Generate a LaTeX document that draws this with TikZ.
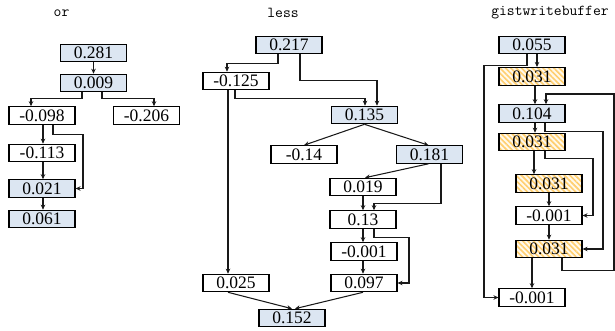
\documentclass[tikz,border=0pt]{standalone}
\usepackage{fontspec}
\setmainfont{Liberation Serif}
\usetikzlibrary{arrows.meta,patterns.meta,calc}
\definecolor{boxblue}{HTML}{DCE6F2}
\definecolor{hatchor}{HTML}{FFCF70}
\definecolor{hatchbg}{HTML}{FFF9EC}
\tikzset{
  val/.style={draw=black, line width=1.1pt, minimum width=66pt, minimum height=17.5pt, inner sep=0pt,
    font=\fontsize{17.5}{18}\selectfont, text depth=0pt},
  blue/.style={val, fill=boxblue},
  plain/.style={val, fill=white},
  hatch/.style={val, preaction={fill=hatchbg}, pattern={Lines[angle=-45,distance=3.8pt,line width=1.6pt]}, pattern color=hatchor},
  arr/.style={draw=black!90, line width=1.05pt, -{Stealth[length=5pt,width=4.5pt]}},
  ttl/.style={font=\ttfamily\fontsize{15.2}{16}\selectfont, text=black, inner sep=0pt}
}
\begin{document}
\begin{tikzpicture}[x=1pt,y=-1pt]
\useasboundingbox (0,0) rectangle (615,331);
% titles
\node[ttl] (t1) at (61.5,13) {or};
\node[ttl] (t2) at (283,13) {less};
\node[ttl] (t3) at (550,13) {gistwritebuffer};
% or
\node[blue]  (o1) at (93.5,53) {0.281};
\node[blue]  (o2) at (93.5,83) {0.009};
\node[plain] (o3) at (42,115.5) {-0.098};
\node[plain] (o4) at (146.5,115.5) {-0.206};
\node[plain] (o5) at (42,153) {-0.113};
\node[blue]  (o6) at (42,188.5) {0.021};
\node[blue]  (o7) at (42,219) {0.061};
\draw[arr] (o1.south) -- (o2.north);
\draw[arr] ([xshift=-11.5pt]o2.south) -- ++(0,6) -| ([xshift=-11pt]o3.north);
\draw[arr] ([xshift=8.5pt]o2.south) -- ++(0,6) -| ([xshift=7.5pt]o4.north);
\draw[arr] ([xshift=1pt]o3.south) -- ([xshift=1pt]o5.north);
\draw[arr] ([xshift=11pt]o3.south) -- ++(0,10) -- ++(30,0) |- (o6.east);
\draw[arr] ([xshift=1pt]o5.south) -- ([xshift=1pt]o6.north);
\draw[arr] ([xshift=1pt]o6.south) -- ([xshift=1pt]o7.north);
% less
\node[blue]  (l1) at (289,45) {0.217};
\node[plain] (l2) at (236,81) {-0.125};
\node[blue]  (l3) at (364.5,115) {0.135};
\node[plain] (l4) at (304,154.5) {-0.14};
\node[blue]  (l5) at (429.5,154.5) {0.181};
\node[plain] (l6) at (363,187) {0.019};
\node[plain] (l7) at (363,219.5) {0.13};
\node[plain] (l8) at (364,251.5) {-0.001};
\node[plain] (l9) at (236,283) {0.025};
\node[plain] (l10) at (364,283) {0.097};
\node[blue]  (l11) at (292,318) {0.152};
\draw[arr] ([xshift=-11pt]l1.south) -- ++(0,9) -| ([xshift=-9pt]l2.north);
\draw[arr] ([xshift=11pt]l1.south) -- ++(0,26) -| ([xshift=12.5pt]l3.north);
\draw[arr] ([xshift=-1pt]l2.south) -- ++(0,8) -| ([xshift=0.5pt]l3.north);
\draw[arr] ([xshift=-8pt]l2.south) -- ([xshift=-8pt]l9.north);
\draw[arr] (l3.south) -- (l4.north);
\draw[arr] (l3.south) -- ([xshift=-1pt]l5.north);
\draw[arr] ([xshift=-1pt]l5.south) -- ([xshift=2pt]l6.north);
\draw[arr] ([xshift=11.5pt]l5.south) -- ++(0,40) -| ([xshift=11pt]l7.north);
\draw[arr] (l6.south) -- (l7.north);
\draw[arr] (l7.south) -- ([xshift=-1pt]l8.north);
\draw[arr] ([xshift=11pt]l7.south) -- ++(0,9) -- ++(35,0) |- (l10.east);
\draw[arr] ([xshift=-1pt]l8.south) -- ([xshift=-1pt]l10.north);
\draw[arr] ([xshift=-8pt]l9.south) -- (l11.north);
\draw[arr] ([xshift=-1pt]l10.south) -- ([xshift=3pt]l11.north);
% gistwritebuffer
\node[blue]  (g1) at (532,45) {0.055};
\node[hatch] (g2) at (532,76.5) {0.031};
\node[blue]  (g3) at (532,113.5) {0.104};
\node[hatch] (g4) at (532,142) {0.031};
\node[hatch] (g5) at (549,183.5) {0.031};
\node[plain] (g6) at (549,215.5) {-0.001};
\node[hatch] (g7) at (549,249) {0.031};
\node[plain] (g8) at (532,297.5) {-0.001};
\coordinate (gtop) at (614,94);
\draw[arr] ([xshift=5pt]g1.south) -- ([xshift=5pt]g2.north);
\draw[arr] ([xshift=-5pt]g1.south) -- ++(0,11) -- ++(-43,0) |- (g8.west);
\draw[arr] ([xshift=3pt]g2.south) -- ([xshift=3pt]g3.north);
\draw[arr] ([xshift=13pt]g7.south) -- ++(0,12) -| (gtop) -| ([xshift=14pt]g3.north);
\draw[arr] ([xshift=3pt]g3.south) -- ([xshift=3pt]g4.north);
\draw[arr] ([xshift=13pt]g3.south) -- ++(0,8.5) -- ++(58,0) |- (g7.east);
\draw[arr] ([xshift=13pt]g4.south) -- ++(0,7.5) -- ++(48,0) |- (g6.east);
\draw[arr] ([xshift=2pt]g4.south) -- ([xshift=-15pt]g5.north);
\draw[arr] (g5.south) -- (g6.north);
\draw[arr] (g6.south) -- (g7.north);
\draw[arr] ([xshift=-17pt]g7.south) -- (g8.north);
\end{tikzpicture}
\end{document}
